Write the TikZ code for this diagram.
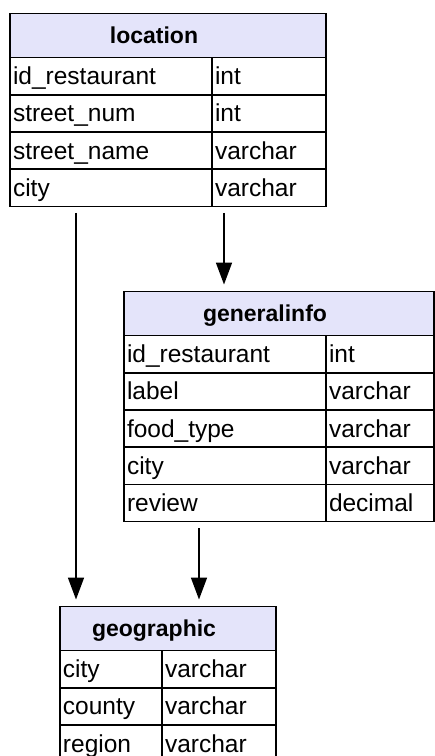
\documentclass[tikz,border=0pt]{standalone}
\usepackage{fontspec}
\setmainfont{Liberation Sans}
\usetikzlibrary{positioning, arrows.meta}
\definecolor{hdfill}{RGB}{228,228,250}

\begin{document}
\begin{tikzpicture}[x=1pt, y=-1pt]
  \tikzset{
    hd/.style={
      rectangle,
      draw,
      fill=hdfill,
      line width=1.6pt,
      outer sep=0pt,
      minimum height=44pt, % header row
      text height=16pt, text depth=0pt,
      font=\fontsize{23}{28}\selectfont\bfseries,
      anchor=north west,
      execute at end node={\kern28pt}, % title sits a bit left of centre
    },
    cell/.style={
      rectangle,
      draw,
      line width=1.6pt,
      outer sep=0pt,
      inner xsep=3pt, inner ysep=0pt,
      minimum height=37.2pt, % one field row
      text height=17.2pt, text depth=0pt,
      text width=#1, align=left,
      font=\fontsize{24.5}{28}\selectfont,
      anchor=north west,
    },
    fk/.style={-{Triangle[length=22pt,width=16pt]}, line width=1.6pt,
      shorten <=6.5pt, shorten >=7pt},
  }
  \useasboundingbox (0,0) rectangle (435,756);

  % location
  \node[hd, minimum width=316pt] (loc) at (10,13.5) {location};
  \node[cell=196pt] (loc1a) at (loc.south west) {id\_restaurant};
  \node[cell=108pt, right=0pt of loc1a] (loc1b) {int};
  \node[cell=196pt, below=0pt of loc1a] (loc2a) {street\_num};
  \node[cell=108pt, right=0pt of loc2a] (loc2b) {int};
  \node[cell=196pt, below=0pt of loc2a] (loc3a) {street\_name};
  \node[cell=108pt, right=0pt of loc3a] (loc3b) {varchar};
  \node[cell=196pt, below=0pt of loc3a] (loc4a) {city};
  \node[cell=108pt, right=0pt of loc4a] (loc4b) {varchar};

  % generalinfo
  \node[hd, minimum width=310pt] (gen) at (124,291.5) {generalinfo};
  \node[cell=196pt] (gen1a) at (gen.south west) {id\_restaurant};
  \node[cell=102pt, right=0pt of gen1a] (gen1b) {int};
  \node[cell=196pt, below=0pt of gen1a] (gen2a) {label};
  \node[cell=102pt, right=0pt of gen2a] (gen2b) {varchar};
  \node[cell=196pt, below=0pt of gen2a] (gen3a) {food\_type};
  \node[cell=102pt, right=0pt of gen3a] (gen3b) {varchar};
  \node[cell=196pt, below=0pt of gen3a] (gen4a) {city};
  \node[cell=102pt, right=0pt of gen4a] (gen4b) {varchar};
  \node[cell=196pt, below=0pt of gen4a] (gen5a) {review};
  \node[cell=102pt, right=0pt of gen5a] (gen5b) {decimal};

  % geographic
  \node[hd, minimum width=216pt] (geo) at (60,606.5) {geographic};
  \node[cell=96pt] (geo1a) at (geo.south west) {city};
  \node[cell=108pt, right=0pt of geo1a] (geo1b) {varchar};
  \node[cell=96pt, below=0pt of geo1a] (geo2a) {county};
  \node[cell=108pt, right=0pt of geo2a] (geo2b) {varchar};
  \node[cell=96pt, below=0pt of geo2a] (geo3a) {region};
  \node[cell=108pt, right=0pt of geo3a] (geo3b) {varchar};

  \draw[fk] ([xshift=66pt]loc4a.south west) -- ([xshift=16pt]geo.north west);
  \draw[fk] ([xshift=12pt]loc4b.south west) -- ([xshift=100pt]gen.north west);
  \draw[fk] ([xshift=75pt]gen5a.south west) -- ([xshift=139pt]geo.north west);
\end{tikzpicture}
\end{document}
